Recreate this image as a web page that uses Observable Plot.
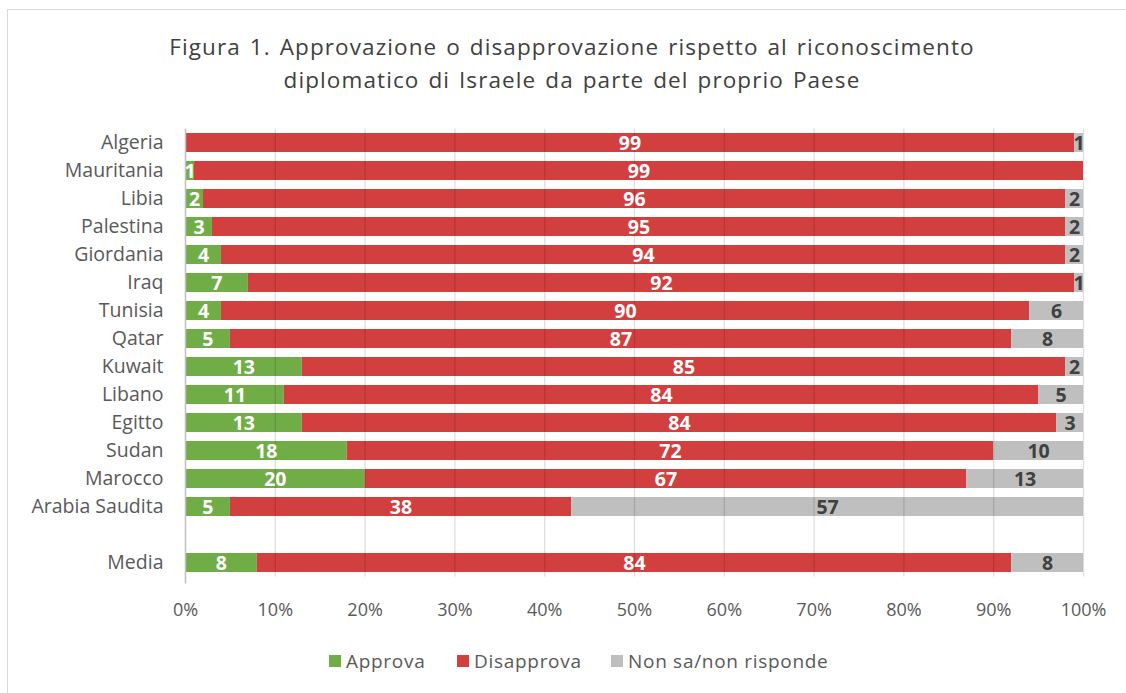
<!DOCTYPE html>
<html>
<head>
<meta charset="utf-8">
<script src="https://cdn.jsdelivr.net/npm/d3@7"></script>
<script src="https://cdn.jsdelivr.net/npm/@observablehq/plot@0.6"></script>
<style>
  html, body { margin: 0; padding: 0; background: #fff; overflow: hidden; }
  #wrap { position: relative; width: 1126px; height: 693px; font-family: "Open Sans", sans-serif; }
  #border { position: absolute; left: 7px; top: 9px; width: 1140px; height: 700px; border: 1.5px solid #d9d9d9; box-sizing: border-box; pointer-events: none; }
  #title { height: 110px; box-sizing: border-box; padding-top: 30px; text-align: center; color: #404040; font-size: 22.5px; line-height: 33px; letter-spacing: 1.1px; word-spacing: 2px; padding-left: 18px; white-space: nowrap; }
  #legend { position: absolute; top: 649px; left: 0; width: 1126px; height: 24px; font-size: 19px; letter-spacing: 0.7px; color: #595959; }
  .li { position: absolute; display: flex; align-items: center; top: 0; height: 24px; }
  .sw { width: 12px; height: 12px; margin-right: 5px; }
</style>
</head>
<body>
<div id="wrap">
  <div id="border"></div>
  <div id="title">Figura 1. Approvazione o disapprovazione rispetto al riconoscimento<br>diplomatico di Israele da parte del proprio Paese</div>
  <div id="chart"></div>
  <div id="legend"></div>
</div>
<script>
const countries = ["Algeria","Mauritania","Libia","Palestina","Giordania","Iraq","Tunisia","Qatar","Kuwait","Libano","Egitto","Sudan","Marocco","Arabia Saudita","Media"];
const approva    = [0, 1, 2, 3, 4, 7, 4, 5, 13, 11, 13, 18, 20, 5, 8];
const disapprova = [99, 99, 96, 95, 94, 92, 90, 87, 85, 84, 84, 72, 67, 38, 84];
const nonSa      = [1, 0, 2, 2, 2, 1, 6, 8, 2, 5, 3, 10, 13, 57, 8];
const categories = ["Approva", "Disapprova", "Non sa/non risponde"];
const colors = ["#70AD47", "#D13F3F", "#BFBFBF"];
const labelColors = ["#ffffff", "#ffffff", "#404040"];
const xTicks = [0, 10, 20, 30, 40, 50, 60, 70, 80, 90, 100];

const spacer = " ";
const yDomain = [...countries.slice(0, 14), spacer, countries[14]];

const series = [approva, disapprova, nonSa];
const data = [];
countries.forEach((c, i) => {
  categories.forEach((cat, k) => {
    data.push({country: c, cat, value: series[k][i], k});
  });
});

const plot = Plot.plot({
  width: 1126,
  height: 517,
  marginLeft: 185,
  marginRight: 43,
  marginTop: 13.5,
  marginBottom: 45.5,
  style: {fontFamily: "'Open Sans', sans-serif", fontSize: "17px", color: "#595959", background: "transparent"},
  x: {domain: [0, 100], ticks: xTicks, tickFormat: d => d + "%", label: null},
  y: {domain: yDomain, padding: 0.32, label: null},
  color: {domain: categories, range: colors},
  marks: [
    Plot.barX(data, Plot.stackX({x: "value", y: "country", fill: "cat", order: categories})),
    Plot.gridX(xTicks.filter(d => d > 0), {stroke: "#000", strokeOpacity: 0.13, strokeWidth: 1.3, insetTop: 5, insetBottom: 5}),
    Plot.ruleX([0], {stroke: "#BFBFBF", strokeWidth: 1.5, insetTop: 5, insetBottom: -2}),
    Plot.text(data, Plot.stackX({
      x: "value", y: "country", z: "cat", order: categories,
      text: d => d.value > 0 ? String(d.value) : "",
      fill: d => labelColors[d.k],
      fontWeight: "bold", fontSize: 19.5, dy: 1
    })),
    Plot.axisX({ticks: xTicks, tickFormat: d => d + "%", tickSize: 0, tickPadding: 21, fontSize: 18, fill: "#595959"}),
    Plot.axisY({tickSize: 0, tickPadding: 22, tickFormat: d => d === spacer ? "" : d, fontSize: 19.5, letterSpacing: "0.9px", fill: "#595959"})
  ]
});
document.getElementById("chart").appendChild(plot);

const legend = document.getElementById("legend");
const lx = [329, 457, 611];
categories.forEach((cat, k) => {
  const item = document.createElement("div");
  item.className = "li";
  item.style.left = lx[k] + "px";
  const sw = document.createElement("span");
  sw.className = "sw";
  sw.style.background = colors[k];
  const t = document.createElement("span");
  t.textContent = cat;
  item.appendChild(sw);
  item.appendChild(t);
  legend.appendChild(item);
});
</script>
</body>
</html>
